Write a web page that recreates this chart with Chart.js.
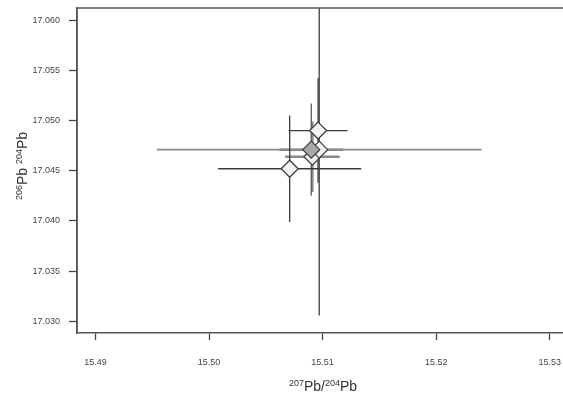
<!DOCTYPE html>
<html>
<head>
<meta charset="utf-8">
<script src="https://cdn.jsdelivr.net/npm/chart.js@4.4.0/dist/chart.umd.min.js"></script>
<style>
  body { margin: 0; background: #fff; overflow: hidden; }
</style>
</head>
<body>
<canvas id="pbChart" width="563" height="395"></canvas>
<script>
// measured points, drawn in this order (last one on top)
const xVals = [15.5091, 15.5097, 15.5090, 15.5096, 15.5071];
const yVals = [17.0464, 17.0471, 17.0471, 17.0490, 17.0452];
const xErr = [0.0024, 0.0143, 0.0028, 0.0026, 0.0063];
const yErr = [0.0035, 0.0165, 0.0046, 0.0052, 0.0053];

const xTicks = [15.49, 15.50, 15.51, 15.52, 15.53];
const yTicks = [17.030, 17.035, 17.040, 17.045, 17.050, 17.055, 17.060];

// styles per point
const fills = ['#f2f2f2', '#f2f2f2', '#a8a8a8', '#f2f2f2', '#f2f2f2'];
const hColors = ['#8a8a8a', '#8a8a8a', '#8a8a8a', '#3a3a3a', '#3a3a3a'];
const hWidths = [2.5, 1.6, 2.5, 1.3, 1.3];
const vColors = ['#8a8a8a', '#3a3a3a', '#5a5a5a', '#3a3a3a', '#3a3a3a'];
const vWidths = [2.5, 1.3, 1.3, 1.3, 1.3];

const FONT = '"Liberation Sans", Arial, sans-serif';

const errorBars = {
    id: 'errorBars',
    beforeDatasetsDraw(chart) {
        const { ctx, chartArea: a, scales: { x, y } } = chart;
        ctx.save();
        ctx.beginPath();
        ctx.rect(a.left, a.top, a.right - a.left, a.bottom - a.top);
        ctx.clip();
        for (let i = 0; i < xVals.length; i++) {
            const px = x.getPixelForValue(xVals[i]);
            const py = y.getPixelForValue(yVals[i]);
            ctx.strokeStyle = hColors[i];
            ctx.lineWidth = hWidths[i];
            ctx.beginPath();
            ctx.moveTo(x.getPixelForValue(xVals[i] - xErr[i]), py);
            ctx.lineTo(x.getPixelForValue(xVals[i] + xErr[i]), py);
            ctx.stroke();
            ctx.strokeStyle = vColors[i];
            ctx.lineWidth = vWidths[i];
            ctx.beginPath();
            ctx.moveTo(px, y.getPixelForValue(yVals[i] - yErr[i]));
            ctx.lineTo(px, y.getPixelForValue(yVals[i] + yErr[i]));
            ctx.stroke();
        }
        ctx.restore();
    }
};

// text with superscript mass numbers: parts = [[text, isSup], ...]
function drawIsotopeText(ctx, parts, cx, baseY) {
    const big = '14px ' + FONT, small = '9px ' + FONT;
    let total = 0;
    parts.forEach(p => { ctx.font = p[1] ? small : big; total += ctx.measureText(p[0]).width; });
    let xPos = cx - total / 2;
    ctx.textAlign = 'left';
    ctx.textBaseline = 'alphabetic';
    parts.forEach(p => {
        ctx.font = p[1] ? small : big;
        ctx.fillText(p[0], xPos, p[1] ? baseY - 5 : baseY);
        xPos += ctx.measureText(p[0]).width;
    });
}

const frame = {
    id: 'frame',
    afterDraw(chart) {
        const { ctx, chartArea: a } = chart;
        ctx.save();
        ctx.strokeStyle = '#555';
        ctx.lineWidth = 1.5;
        ctx.beginPath();
        ctx.moveTo(a.left, a.bottom);
        ctx.lineTo(a.left, a.top);
        ctx.lineTo(a.right + 2, a.top);
        ctx.stroke();

        ctx.fillStyle = '#333';
        drawIsotopeText(ctx, [['207', true], ['Pb/', false], ['204', true], ['Pb', false]], 323, 391);
        ctx.translate(27, 166);
        ctx.rotate(-Math.PI / 2);
        drawIsotopeText(ctx, [['206', true], ['Pb ', false], ['204', true], ['Pb', false]], 0, 0);
        ctx.restore();
    }
};

new Chart(document.getElementById('pbChart'), {
    type: 'scatter',
    data: {
        datasets: [{
            data: xVals.map((v, i) => ({ x: v, y: yVals[i] })),
            pointStyle: 'rectRot',
            pointRadius: 8.5,
            pointHoverRadius: 8.5,
            pointBackgroundColor: fills,
            pointBorderColor: '#404040',
            pointBorderWidth: 1.3
        }]
    },
    options: {
        responsive: false,
        animation: false,
        devicePixelRatio: 1,
        layout: { autoPadding: false, padding: { left: 0, top: 8, right: 0, bottom: 0 } },
        plugins: { legend: { display: false }, tooltip: { enabled: false } },
        scales: {
            x: {
                min: 15.48837,
                max: 15.53117,
                afterFit: s => { s.height = 62; s.paddingLeft = 0; s.paddingRight = 0; },
                afterBuildTicks: s => { s.ticks = xTicks.map(v => ({ value: v })); },
                grid: { drawOnChartArea: false, tickLength: 7, tickColor: '#444', tickWidth: 1.3 },
                border: { color: '#555', width: 1.5 },
                ticks: {
                    padding: 17,
                    color: '#444',
                    font: { family: FONT, size: 9 },
                    callback: v => v.toFixed(2)
                }
            },
            y: {
                min: 17.02885,
                max: 17.0612,
                afterFit: s => { s.width = 77; s.paddingTop = 0; s.paddingBottom = 0; },
                afterBuildTicks: s => { s.ticks = yTicks.map(v => ({ value: v })); },
                grid: { drawOnChartArea: false, tickLength: 8, tickColor: '#444', tickWidth: 1.3 },
                border: { color: '#555', width: 1.5 },
                ticks: {
                    padding: 9,
                    color: '#444',
                    font: { family: FONT, size: 9 },
                    callback: v => v.toFixed(3)
                }
            }
        }
    },
    plugins: [errorBars, frame]
});
</script>
</body>
</html>
